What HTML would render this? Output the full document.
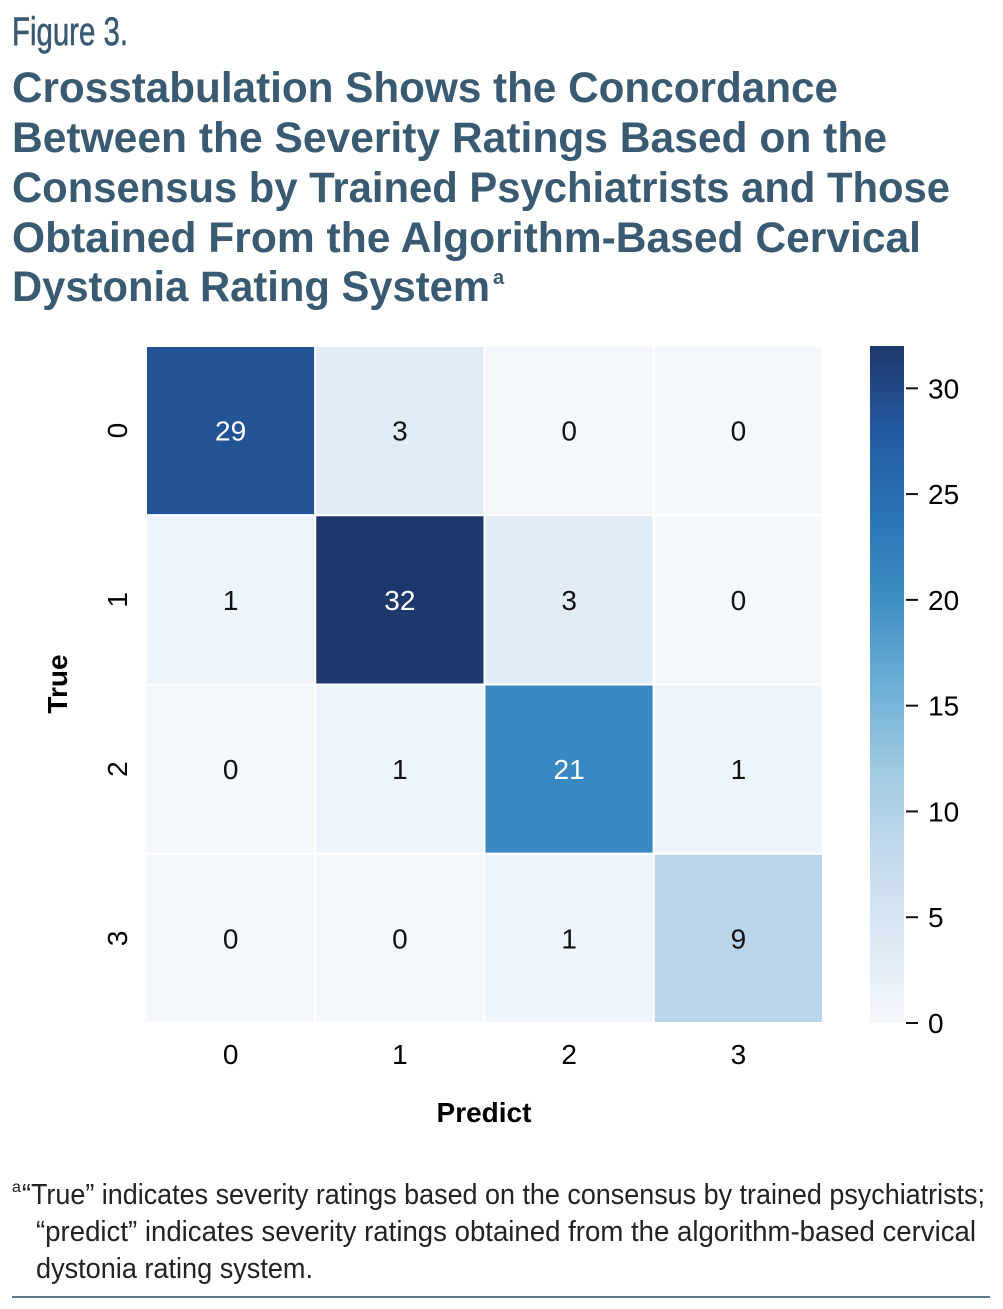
<!DOCTYPE html>
<html><head><meta charset="utf-8"><style>
html,body{margin:0;padding:0;background:#fff}
svg{display:block}
text{font-family:"Liberation Sans",sans-serif}
.n{font-family:"Liberation Sans Narrow","Liberation Sans",sans-serif}
</style></head><body>
<svg id="fig" width="1003" height="1309" viewBox="0 0 1003 1309" xmlns="http://www.w3.org/2000/svg">
<text class="n" x="12" y="45" font-size="40" fill="#3a5a72" stroke="#3a5a72" stroke-width="0.6" textLength="116" lengthAdjust="spacingAndGlyphs">Figure 3.</text>
<g fill="#3a5a72" font-weight="bold" font-size="43">
<text x="12" y="102" textLength="826" lengthAdjust="spacingAndGlyphs">Crosstabulation Shows the Concordance</text>
<text x="12" y="152" textLength="875" lengthAdjust="spacingAndGlyphs">Between the Severity Ratings Based on the</text>
<text x="12" y="202" textLength="938" lengthAdjust="spacingAndGlyphs">Consensus by Trained Psychiatrists and Those</text>
<text x="12" y="252" textLength="909" lengthAdjust="spacingAndGlyphs">Obtained From the Algorithm-Based Cervical</text>
<text x="12" y="301" textLength="478" lengthAdjust="spacingAndGlyphs">Dystonia Rating System</text>
<text x="493" y="284" font-size="20">a</text>
</g>
<g id="cells"></g>
<g id="axes"></g>
<defs><linearGradient id="cbg" x1="0" y1="1" x2="0" y2="0"></linearGradient></defs>
<g id="cbar"></g>
<text transform="translate(67,684) rotate(-90)" text-anchor="middle" font-size="28" font-weight="bold">True</text>
<text x="484" y="1122" text-anchor="middle" font-size="28" font-weight="bold">Predict</text>
<g class="n" font-size="29" fill="#222">
<text x="12" y="1192" font-size="16">a</text>
<text x="22" y="1204" textLength="963" lengthAdjust="spacingAndGlyphs">“True” indicates severity ratings based on the consensus by trained psychiatrists;</text>
<text x="36" y="1241" textLength="940" lengthAdjust="spacingAndGlyphs">“predict” indicates severity ratings obtained from the algorithm-based cervical</text>
<text x="36" y="1278" textLength="277" lengthAdjust="spacingAndGlyphs">dystonia rating system.</text>
</g>
<rect x="12" y="1296" width="978" height="2" fill="#5a7890"/>
</svg>
<script>
const trueLabels=["0","1","2","3"];
const predLabels=["0","1","2","3"];
const row0=[29,3,0,0];
const row1=[1,32,3,0];
const row2=[0,1,21,1];
const row3=[0,0,1,9];
const matrix=[row0,row1,row2,row3];
const cbTicks=[0,5,10,15,20,25,30];
const vmin=0,vmax=32;
const NS="http://www.w3.org/2000/svg";
const L=146,T=346,W=677,H=677;
const cw=W/predLabels.length,ch=H/trueLabels.length;
const xs=i=>L+i*cw, ys=j=>T+j*ch;
const cbTop=346,cbBot=1023,cbX=870,cbW=34;
const cy=v=>cbBot-(v-vmin)/(vmax-vmin)*(cbBot-cbTop);
const stops=["#f4f8fd","#dbe8f4","#c3d9ec","#9fcae1","#6caed5","#3f8fc4","#2b74b6","#245aa3","#1f386b"];
function hex(h){return [1,3,5].map(i=>parseInt(h.substr(i,2),16));}
function color(v){let t=Math.max(0,Math.min(1,(v-vmin)/(vmax-vmin)))*(stops.length-1);let i=Math.min(Math.floor(t),stops.length-2),f=t-i;const a=hex(stops[i]),b=hex(stops[i+1]);return "rgb("+a.map((x,k)=>Math.round(x+(b[k]-x)*f)).join(",")+")";}
function mk(tag,attrs,parent){const e=document.createElementNS(NS,tag);for(const k in attrs)e.setAttribute(k,attrs[k]);parent.appendChild(e);return e;}
const cells=document.getElementById('cells');
matrix.forEach((row,j)=>row.forEach((v,i)=>{
 const r=mk('rect',{x:xs(i),y:ys(j),width:cw,height:ch,fill:color(v),stroke:'#fff','stroke-width':2},cells);
 
 
 const t=mk('text',{x:xs(i)+cw/2,y:ys(j)+ch/2+10,'text-anchor':'middle','font-size':28,fill:v>16?'#fff':'#111'},cells);
 
 
 t.textContent=v;
}));
const axes=document.getElementById('axes');
predLabels.forEach((l,i)=>{const t=mk('text',{x:xs(i)+cw/2,y:1064,'text-anchor':'middle','font-size':28},axes);
 
 
 t.textContent=l;});
trueLabels.forEach((l,j)=>{const t=mk('text',{transform:'translate(127,'+(ys(j)+ch/2)+') rotate(-90)','text-anchor':'middle','font-size':28},axes);
 
 
 t.textContent=l;});
const g=document.getElementById('cbg');
stops.forEach((s,k)=>mk('stop',{offset:(k/(stops.length-1)),'stop-color':s},g));
const cb=document.getElementById('cbar');
const cr=mk('rect',{x:cbX,y:cbTop,width:cbW,height:cbBot-cbTop,fill:'url(#cbg)'},cb);


cbTicks.forEach(v=>{const y=cy(v);
 const ln=mk('line',{x1:cbX+cbW+2,x2:cbX+cbW+14,y1:y,y2:y,stroke:'#111','stroke-width':2},cb);
 
 
 const t=mk('text',{x:cbX+cbW+24,y:y+10,'font-size':28},cb);
 
 
 t.textContent=v;});
</script>
</body></html>
